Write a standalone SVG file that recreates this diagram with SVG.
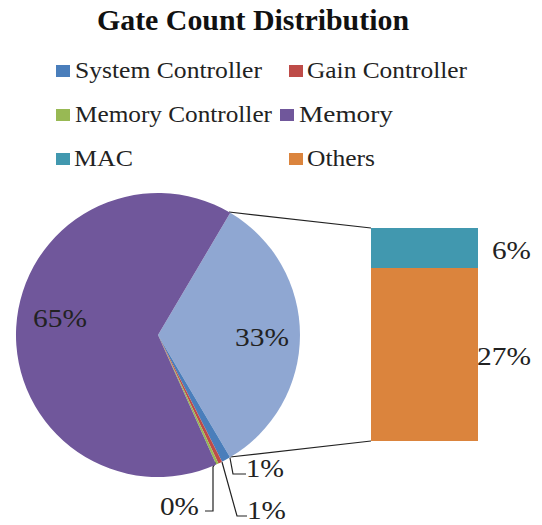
<svg xmlns="http://www.w3.org/2000/svg" width="542" height="525" viewBox="0 0 542 525">
  <style>
    .title { font-family: "Liberation Serif", "Times New Roman", serif; font-weight: bold; font-size: 30px; fill: #111; }
    .legend { font-family: "Liberation Serif", "Times New Roman", serif; font-size: 24px; fill: #222; }
    .pct { font-family: "Liberation Serif", "Times New Roman", serif; font-size: 26px; fill: #222; }
    .leader { fill: none; stroke: #222; stroke-width: 1.2; }
    .sys { fill: #4a7ebb; }
    .gain { fill: #be4b48; }
    .memctl { fill: #98b954; }
    .mem { fill: #70579b; }
    .mac { fill: #4198af; }
    .oth { fill: #db843d; }
    .othpie { fill: #8fa7d2; }
  </style>
  <rect width="542" height="525" fill="#ffffff"/>

  <text class="title" x="97" y="30" textLength="312" lengthAdjust="spacingAndGlyphs">Gate Count Distribution</text>

  <!-- legend -->
  <g id="legend">
    <g id="legend-system-controller">
      <rect class="sys" x="56" y="65" width="14" height="12"/>
      <text class="legend" x="75" y="78" textLength="187" lengthAdjust="spacingAndGlyphs">System Controller</text>
    </g>
    <g id="legend-gain-controller">
      <rect class="gain" x="289" y="65" width="14" height="12"/>
      <text class="legend" x="307" y="78" textLength="160" lengthAdjust="spacingAndGlyphs">Gain Controller</text>
    </g>
    <g id="legend-memory-controller">
      <rect class="memctl" x="56" y="109" width="14" height="12"/>
      <text class="legend" x="75" y="122" textLength="197" lengthAdjust="spacingAndGlyphs">Memory Controller</text>
    </g>
    <g id="legend-memory">
      <rect class="mem" x="280" y="109" width="14" height="12"/>
      <text class="legend" x="299" y="122" textLength="94" lengthAdjust="spacingAndGlyphs">Memory</text>
    </g>
    <g id="legend-mac">
      <rect class="mac" x="56" y="153" width="14" height="12"/>
      <text class="legend" x="74" y="166" textLength="59" lengthAdjust="spacingAndGlyphs">MAC</text>
    </g>
    <g id="legend-others">
      <rect class="oth" x="289" y="153" width="14" height="12"/>
      <text class="legend" x="307" y="166" textLength="68" lengthAdjust="spacingAndGlyphs">Others</text>
    </g>
  </g>

  <!-- connectors: pie slice to stacked bar, and label leaders -->
  <g id="connectors">
    <line class="leader" x1="229" y1="212" x2="371" y2="228"/>
    <line class="leader" x1="230" y1="457" x2="371" y2="441"/>
    <path class="leader" d="M230,458 L233,474 L246,474"/>
    <path class="leader" d="M222,462 L237,516 L247,516"/>
    <path class="leader" d="M216,462 L213,467 L213,511 L205,511"/>
  </g>

  <!-- pie, centre (158,335), r 142 -->
  <g id="pie">
    <path id="slice-others" class="othpie" d="M158,335 L230.28,212.78 A142,142 0 0 1 230.07,457.35 Z"/>
    <path id="slice-system-controller" class="sys" d="M158,335 L230.07,457.35 A142,142 0 0 1 222.03,461.75 Z"/>
    <path id="slice-gain-controller" class="gain" d="M158,335 L222.03,461.75 A142,142 0 0 1 218.46,463.48 Z"/>
    <path id="slice-memory-controller" class="memctl" d="M158,335 L218.46,463.48 A142,142 0 0 1 216.21,464.52 Z"/>
    <path id="slice-memory" class="mem" d="M158,335 L216.21,464.52 A142,142 0 1 1 230.28,212.78 Z"/>
  </g>

  <!-- stacked bar breaking down the "others" slice -->
  <g id="bar">
    <rect id="bar-mac" class="mac" x="371" y="228" width="107" height="40"/>
    <rect id="bar-others" class="oth" x="371" y="268" width="107" height="173"/>
  </g>

  <!-- data labels -->
  <g id="labels">
    <text class="pct" x="33" y="327" textLength="54" lengthAdjust="spacingAndGlyphs">65%</text>
    <text class="pct" x="235" y="346" textLength="54" lengthAdjust="spacingAndGlyphs">33%</text>
    <text class="pct" x="492" y="259" textLength="39" lengthAdjust="spacingAndGlyphs">6%</text>
    <text class="pct" x="477" y="365" textLength="54" lengthAdjust="spacingAndGlyphs">27%</text>
    <text class="pct" x="246" y="477" textLength="38" lengthAdjust="spacingAndGlyphs">1%</text>
    <text class="pct" x="247" y="519" textLength="39" lengthAdjust="spacingAndGlyphs">1%</text>
    <text class="pct" x="160" y="515" textLength="39" lengthAdjust="spacingAndGlyphs">0%</text>
  </g>
</svg>
